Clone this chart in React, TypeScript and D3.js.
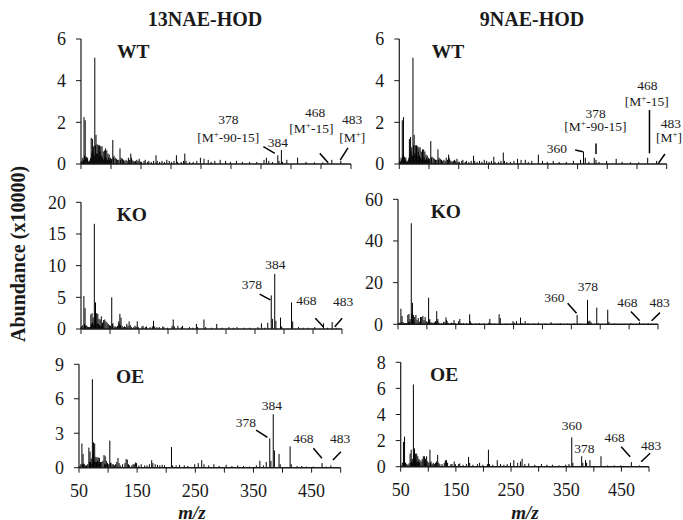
import * as d3 from 'd3';

type Peak = [number, number];
type Note = { mz: number; v: number; t: string };
type Leader = [[number, number], [number, number]];

// ---- spectra (m/z, abundance x10000) ----
const WT_13NAE: Peak[] = [
  [50, 0.1], [51, 0.15], [52, 0.1], [53, 0.3], [54, 0.2], [55, 2.25], [56, 0.4], [57, 2.1], [58, 0.3], [59, 0.35],
  [60, 0.2], [61, 0.3], [62, 0.1], [63, 0.15], [64, 0.1], [65, 0.2], [66, 0.3], [67, 1.25], [68, 0.5], [69, 1.2],
  [70, 0.6], [71, 0.85], [72, 0.4], [73, 5.1], [74, 0.9], [75, 1.4], [76, 0.5], [77, 0.95], [78, 0.5], [79, 0.9],
  [80, 0.4], [81, 0.9], [82, 0.6], [83, 0.85], [84, 0.4], [85, 0.85], [86, 0.3], [87, 0.6], [88, 0.2], [89, 0.65],
  [90, 0.3], [91, 0.75], [92, 0.3], [93, 0.65], [94, 0.2], [95, 0.5], [96, 0.3], [97, 0.45], [98, 0.2], [99, 0.3],
  [100, 0.15], [101, 0.25], [103, 1.15], [104, 0.3], [105, 0.4], [107, 0.3], [109, 0.25], [111, 0.2], [113, 0.2],
  [115, 0.75], [116, 0.2], [117, 0.3], [119, 0.25], [121, 0.2], [123, 0.15], [125, 0.2], [127, 0.15], [129, 0.3],
  [131, 0.2], [133, 0.5], [134, 0.3], [135, 0.2], [137, 0.15], [139, 0.12], [141, 0.15], [143, 0.2], [145, 0.15],
  [147, 0.25], [149, 0.12], [151, 0.1], [155, 0.15], [157, 0.2], [161, 0.1], [163, 0.15], [167, 0.1], [171, 0.15],
  [175, 0.42], [177, 0.15], [181, 0.1], [185, 0.15], [189, 0.1], [193, 0.2], [197, 0.15], [201, 0.1], [205, 0.15],
  [209, 0.42], [211, 0.1], [217, 0.1], [221, 0.15], [223, 0.5], [225, 0.15], [231, 0.1], [237, 0.1], [243, 0.15],
  [249, 0.3], [255, 0.25], [262, 0.2], [267, 0.1], [273, 0.15], [282, 0.2], [291, 0.15], [299, 0.1], [309, 0.15],
  [319, 0.1], [331, 0.1], [343, 0.1], [355, 0.2], [359, 0.3], [363, 0.15], [369, 0.1], [378, 0.42], [380, 0.15],
  [384, 0.67], [386, 0.1], [393, 0.2], [411, 0.3], [425, 0.1], [439, 0.08], [453, 0.08], [468, 0.2], [483, 0.15],
];

const WT_9NAE: Peak[] = [
  [50, 0.1], [51, 0.15], [52, 0.1], [53, 0.3], [54, 0.2], [55, 2.1], [56, 0.4], [57, 2.25], [58, 0.3], [59, 0.35],
  [60, 0.2], [61, 0.3], [62, 0.1], [63, 0.15], [64, 0.1], [65, 0.2], [66, 0.3], [67, 1.2], [68, 0.5], [69, 1.3],
  [70, 0.6], [71, 0.8], [72, 0.4], [73, 5.1], [74, 0.9], [75, 1.4], [76, 0.5], [77, 0.9], [78, 0.5], [79, 0.9],
  [80, 0.4], [81, 0.85], [82, 0.6], [83, 0.8], [84, 0.4], [85, 0.8], [86, 0.3], [87, 0.6], [88, 0.2], [89, 0.7],
  [90, 0.3], [91, 0.7], [92, 0.3], [93, 0.6], [94, 0.2], [95, 0.45], [96, 0.3], [97, 0.4], [98, 0.2], [99, 0.3],
  [100, 0.15], [101, 0.25], [103, 1.1], [104, 0.3], [105, 0.35], [107, 0.3], [109, 0.25], [111, 0.2], [113, 0.2],
  [115, 0.7], [116, 0.2], [117, 0.3], [119, 0.25], [121, 0.2], [123, 0.15], [125, 0.2], [127, 0.15], [129, 0.3],
  [131, 0.2], [133, 0.45], [134, 0.3], [135, 0.2], [137, 0.15], [139, 0.12], [141, 0.15], [143, 0.2], [145, 0.15],
  [147, 0.25], [149, 0.12], [151, 0.1], [155, 0.15], [157, 0.2], [161, 0.1], [163, 0.15], [167, 0.1], [171, 0.15],
  [175, 0.4], [177, 0.15], [181, 0.1], [185, 0.15], [189, 0.1], [193, 0.2], [197, 0.15], [201, 0.1], [205, 0.15],
  [209, 0.35], [211, 0.1], [217, 0.1], [221, 0.15], [225, 0.55], [227, 0.15], [231, 0.1], [237, 0.1], [243, 0.15],
  [249, 0.25], [255, 0.2], [262, 0.2], [267, 0.1], [273, 0.15], [284, 0.45], [291, 0.15], [299, 0.1], [309, 0.15],
  [319, 0.1], [331, 0.1], [343, 0.15], [355, 0.2], [360, 0.6], [363, 0.3], [369, 0.1], [378, 0.3], [381, 0.2],
  [386, 0.1], [399, 0.15], [415, 0.25], [425, 0.1], [439, 0.08], [453, 0.08], [468, 0.3], [483, 0.15],
];

const KO_13NAE: Peak[] = [
  [50, 0.3], [51, 0.4], [53, 0.6], [55, 5.2], [56, 0.8], [57, 3.3], [58, 0.5], [59, 0.6], [61, 0.4], [63, 0.3],
  [65, 0.3], [66, 0.4], [67, 2.3], [68, 0.8], [69, 2.5], [70, 1.0], [71, 1.8], [72, 0.7], [73, 16.6], [74, 2.5],
  [75, 4.2], [76, 1.0], [77, 2.5], [78, 0.8], [79, 2.4], [80, 0.8], [81, 1.6], [82, 0.6], [83, 1.5], [84, 0.5],
  [85, 2.0], [86, 0.5], [87, 1.0], [89, 1.4], [91, 1.5], [93, 1.2], [95, 1.0], [97, 0.8], [99, 0.6], [101, 0.5],
  [103, 5.0], [104, 0.8], [105, 0.9], [107, 0.4], [109, 0.4], [111, 0.3], [113, 0.5], [115, 1.2], [116, 0.8],
  [117, 2.4], [118, 0.6], [119, 1.8], [121, 0.5], [123, 0.3], [125, 0.4], [127, 0.3], [129, 0.8], [131, 0.5],
  [133, 1.2], [135, 0.6], [137, 0.3], [141, 0.3], [143, 0.5], [145, 0.4], [147, 1.2], [149, 0.3], [155, 0.4],
  [157, 0.5], [161, 0.3], [163, 0.4], [169, 0.3], [173, 0.4], [175, 1.3], [177, 0.4], [181, 0.3], [185, 0.3],
  [191, 0.4], [193, 0.3], [199, 0.2], [207, 0.5], [209, 1.5], [211, 0.4], [217, 0.5], [223, 0.3], [225, 0.5],
  [237, 0.3], [243, 0.2], [249, 0.8], [251, 0.3], [262, 1.5], [265, 0.3], [275, 0.2], [284, 0.8], [293, 0.2],
  [305, 0.3], [313, 0.2], [319, 0.3], [331, 0.2], [341, 0.2], [355, 0.3], [361, 0.9], [367, 0.2], [372, 1.0],
  [378, 5.3], [380, 1.6], [384, 8.7], [386, 1.3], [394, 1.8], [396, 0.4], [413, 4.2], [415, 1.2], [425, 0.3],
  [433, 0.2], [441, 0.2], [453, 0.3], [468, 0.9], [475, 0.2], [483, 1.1], [490, 0.2],
];

const KO_9NAE: Peak[] = [
  [50, 0.5], [53, 0.8], [55, 7.5], [56, 1], [57, 4], [59, 1], [61, 0.6], [63, 0.5], [65, 0.6], [67, 4.5],
  [68, 1], [69, 5], [70, 1.2], [71, 2.5], [73, 48.5], [74, 5], [75, 10.3], [76, 2], [77, 4.5], [78, 1],
  [79, 3.5], [81, 4.5], [83, 2], [85, 3], [87, 1.2], [89, 3.5], [91, 3.5], [93, 4], [95, 2], [97, 3.5],
  [99, 1.5], [101, 1], [103, 12.8], [104, 2], [105, 2.5], [107, 1], [109, 0.8], [111, 0.6], [113, 1], [115, 1.5],
  [117, 6.3], [118, 1.5], [119, 2.5], [121, 0.8], [125, 0.6], [129, 1.2], [131, 1], [133, 3.3], [134, 2],
  [135, 1.5], [137, 0.6], [141, 0.5], [143, 0.8], [145, 0.6], [147, 2], [149, 0.6], [155, 1.5], [157, 2.6],
  [159, 0.5], [163, 0.6], [169, 0.5], [174, 4.8], [175, 1.5], [177, 0.6], [185, 0.4], [191, 0.6], [199, 0.4],
  [207, 0.8], [209, 2.6], [211, 0.5], [217, 0.4], [225, 4.8], [227, 3.0], [237, 0.4], [249, 1.5], [251, 0.8],
  [255, 1.5], [262, 3.2], [265, 0.6], [270, 1.5], [275, 0.5], [285, 0.4], [293, 0.8], [305, 0.4], [315, 1],
  [325, 0.3], [331, 0.5], [343, 0.3], [355, 0.5], [360, 4.5], [365, 0.4], [378, 11.7], [380, 1.5], [382, 1.8],
  [384, 1], [394, 8], [397, 0.5], [413, 7], [415, 1.2], [425, 0.4], [441, 0.3], [453, 0.5], [468, 1.0],
  [475, 0.3], [483, 0.5],
];

const OE_13NAE: Peak[] = [
  [50, 0.15], [53, 0.3], [55, 2.1], [56, 0.3], [57, 1.2], [58, 0.3], [59, 0.35], [61, 0.2], [63, 0.2], [65, 0.3],
  [67, 1.75], [68, 0.5], [69, 1.4], [70, 0.5], [71, 0.8], [72, 0.3], [73, 7.7], [74, 1.2], [75, 2.2], [76, 0.6],
  [77, 2.1], [78, 0.5], [79, 0.95], [80, 0.5], [81, 0.9], [82, 0.6], [83, 0.9], [84, 0.5], [85, 0.85], [86, 0.3],
  [87, 0.5], [89, 0.5], [91, 0.6], [93, 1.1], [94, 0.3], [95, 1.0], [96, 0.3], [97, 0.6], [99, 0.4], [101, 0.3],
  [103, 2.35], [104, 0.4], [105, 0.45], [107, 0.3], [109, 0.3], [111, 0.2], [113, 0.3], [115, 0.5], [117, 0.85],
  [119, 0.4], [121, 0.2], [125, 0.3], [129, 0.4], [131, 0.75], [133, 0.7], [135, 0.3], [137, 0.2], [141, 0.2],
  [143, 0.3], [145, 0.3], [147, 0.45], [149, 0.4], [153, 0.2], [157, 0.3], [163, 0.2], [167, 0.2], [171, 0.3],
  [175, 0.65], [177, 0.4], [181, 0.3], [185, 0.25], [189, 0.2], [193, 0.25], [197, 0.2], [209, 1.8], [211, 0.2],
  [217, 0.2], [223, 0.25], [231, 0.2], [237, 0.15], [249, 0.3], [255, 0.4], [261, 0.65], [265, 0.3], [273, 0.2],
  [282, 0.3], [291, 0.15], [303, 0.25], [313, 0.15], [323, 0.2], [333, 0.15], [343, 0.1], [355, 0.2], [361, 0.6],
  [367, 0.2], [372, 0.5], [378, 2.55], [380, 0.6], [384, 4.65], [386, 1.5], [394, 1.2], [396, 0.3], [413, 1.85],
  [415, 0.3], [425, 0.15], [433, 0.15], [441, 0.1], [453, 0.1], [468, 0.4], [475, 0.1], [483, 0.2],
];

const OE_9NAE: Peak[] = [
  [50, 0.15], [53, 0.3], [55, 1.9], [56, 0.3], [57, 2.3], [58, 0.3], [59, 0.3], [61, 0.2], [63, 0.15], [65, 0.25],
  [67, 1.0], [68, 0.3], [69, 1.3], [70, 0.4], [71, 0.6], [72, 0.3], [73, 6.3], [74, 1.0], [75, 1.4], [76, 0.5],
  [77, 1.0], [78, 0.4], [79, 1.0], [80, 0.3], [81, 0.8], [82, 0.4], [83, 0.6], [84, 0.3], [85, 0.5], [87, 0.4],
  [89, 0.6], [91, 0.8], [93, 0.8], [95, 0.6], [97, 0.8], [99, 0.4], [101, 0.3], [103, 1.3], [104, 0.3], [105, 0.4],
  [107, 0.2], [109, 0.3], [111, 0.2], [113, 0.3], [115, 0.4], [117, 0.9], [119, 0.3], [121, 0.2], [125, 0.2],
  [129, 0.3], [131, 0.5], [133, 0.5], [135, 0.3], [141, 0.2], [143, 0.2], [147, 0.4], [149, 0.2], [155, 0.2],
  [157, 0.25], [163, 0.15], [169, 0.2], [173, 0.75], [175, 0.3], [181, 0.15], [189, 0.2], [193, 0.3], [199, 0.15],
  [207, 0.2], [209, 1.3], [211, 0.2], [217, 0.15], [225, 0.5], [231, 0.2], [237, 0.15], [243, 0.2], [249, 0.3],
  [255, 0.5], [262, 0.3], [267, 0.4], [270, 0.6], [275, 0.2], [282, 0.25], [293, 0.15], [305, 0.2], [315, 0.15],
  [325, 0.15], [337, 0.1], [349, 0.15], [355, 0.2], [360, 2.25], [362, 0.3], [378, 0.8], [380, 0.3], [385, 0.5],
  [387, 0.3], [393, 0.5], [413, 0.8], [425, 0.1], [437, 0.1], [449, 0.1], [468, 0.35], [483, 0.1],
];

// ---- annotations in data units (m/z, abundance) ----
const NOTES_WT_13NAE: Note[] = [
  { mz: 295.5, v: 1.9, t: '378' }, { mz: 295.5, v: 1.07, t: '[M+-90-15]' }, { mz: 378, v: 0.83, t: '384' },
  { mz: 440, v: 2.27, t: '468' }, { mz: 434, v: 1.47, t: '[M+-15]' },
  { mz: 502, v: 1.9, t: '483' }, { mz: 502, v: 1.06, t: '[M+]' },
];
const LEAD_WT_13NAE: Leader[] = [[[354, 0.83], [373, 0.51]], [[448, 0.51], [462, 0.06]], [[482, 0.19], [495, 0.77]]];

const NOTES_WT_9NAE: Note[] = [
  { mz: 315, v: 0.54, t: '360' }, { mz: 380.6, v: 2.19, t: '378' }, { mz: 380, v: 1.58, t: '[M+-90-15]' },
  { mz: 467.5, v: 3.55, t: '468' }, { mz: 466.5, v: 2.78, t: '[M+-15]' },
  { mz: 507, v: 1.71, t: '483' }, { mz: 504, v: 1.07, t: '[M+]' },
];
const LEAD_WT_9NAE: Leader[] = [[[346, 0.67], [359, 0.59]], [[381, 0.99], [381, 0.48]], [[471, 2.59], [471, 0.51]], [[486, 0.03], [497, 0.48]]];

const NOTES_KO_13NAE: Note[] = [
  { mz: 385, v: 9.43, t: '384' }, { mz: 344.8, v: 6.27, t: '378' }, { mz: 438.6, v: 3.79, t: '468' }, { mz: 502, v: 3.63, t: '483' },
];
const LEAD_KO_13NAE: Leader[] = [[[358, 5.5], [376.5, 4.6]], [[454, 1.7], [468.5, 0.27]], [[487.5, 0.37], [500.3, 1.69]]];

const NOTES_KO_9NAE: Note[] = [
  { mz: 320.7, v: 10.9, t: '360' }, { mz: 378.8, v: 16.1, t: '378' }, { mz: 447, v: 8.5, t: '468' }, { mz: 503, v: 8.2, t: '483' },
];
const LEAD_KO_9NAE: Leader[] = [[[343.6, 10.1], [359, 5.3]], [[453, 6.1], [468.4, 1.7]], [[489, 1.7], [503.4, 5.6]]];

const NOTES_OE_13NAE: Note[] = [
  { mz: 381.6, v: 5.0, t: '384' }, { mz: 337, v: 3.5, t: '378' }, { mz: 436, v: 2.18, t: '468' }, { mz: 499, v: 2.18, t: '483' },
];
const LEAD_OE_13NAE: Leader[] = [[[354.6, 3.28], [374, 2.64]], [[453, 1.69], [467.7, 0.82]], [[486.6, 0.67], [500.4, 1.39]]];

const NOTES_OE_9NAE: Note[] = [
  { mz: 360, v: 2.81, t: '360' }, { mz: 383, v: 1.07, t: '378' }, { mz: 437.5, v: 1.92, t: '468' }, { mz: 504, v: 1.28, t: '483' },
];
const LEAD_OE_9NAE: Leader[] = [[[449.6, 1.53], [465.9, 0.77]], [[485.8, 0.38], [502, 1.03]]];

const MZ_DOMAIN = [50, 500];
const MZ_TICKS = d3.range(50, 501, 50);
const MZ_LABELS = [50, 150, 250, 350, 450];
const COLUMN_TITLES = ['13NAE-HOD', '9NAE-HOD'];

const FONT = '"Liberation Serif", "Times New Roman", "DejaVu Serif", serif';
const INK = '#1a1a1a';

interface PanelDef {
  data: Peak[];
  notes: Note[];
  leaders: Leader[];
  label: string;
  yMax: number;
  yTicks: number[];
  x0: number; x1: number; top: number; bottom: number; labelDx: number;
  xLabels: boolean;
}

const PANELS: PanelDef[] = [
  { data: WT_13NAE, notes: NOTES_WT_13NAE, leaders: LEAD_WT_13NAE, label: 'WT', yMax: 6, yTicks: [0, 2, 4, 6], x0: 81, x1: 351, top: 39, bottom: 164, labelDx: 36, xLabels: false },
  { data: WT_9NAE, notes: NOTES_WT_9NAE, leaders: LEAD_WT_9NAE, label: 'WT', yMax: 6, yTicks: [0, 2, 4, 6], x0: 399.3, x1: 666.7, top: 39, bottom: 164, labelDx: 32.5, xLabels: false },
  { data: KO_13NAE, notes: NOTES_KO_13NAE, leaders: LEAD_KO_13NAE, label: 'KO', yMax: 20, yTicks: [0, 5, 10, 15, 20], x0: 81, x1: 342, top: 202.3, bottom: 329, labelDx: 35.7, xLabels: false },
  { data: KO_9NAE, notes: NOTES_KO_9NAE, leaders: LEAD_KO_9NAE, label: 'KO', yMax: 60, yTicks: [0, 20, 40, 60], x0: 398, x1: 658, top: 199.3, bottom: 324.3, labelDx: 32.7, xLabels: false },
  { data: OE_13NAE, notes: NOTES_OE_13NAE, leaders: LEAD_OE_13NAE, label: 'OE', yMax: 9, yTicks: [0, 3, 6, 9], x0: 79, x1: 340.7, top: 364.3, bottom: 467.7, labelDx: 37, xLabels: true },
  { data: OE_9NAE, notes: NOTES_OE_9NAE, leaders: LEAD_OE_9NAE, label: 'OE', yMax: 8, yTicks: [0, 2, 4, 6, 8], x0: 400.7, x1: 649, top: 362.3, bottom: 466.7, labelDx: 29.3, xLabels: true },
];

function NoteText({ t }: { t: string }) {
  const i = t.indexOf('M+');
  if (i < 0) return <>{t}</>;
  return (
    <>
      {t.slice(0, i + 1)}
      <tspan dy={-5} fontSize={9}>+</tspan>
      <tspan dy={5}>{t.slice(i + 2)}</tspan>
    </>
  );
}

function Panel({ p }: { p: PanelDef }) {
  const x = d3.scaleLinear().domain(MZ_DOMAIN).range([p.x0, p.x1]);
  const y = d3.scaleLinear().domain([0, p.yMax]).range([p.bottom, p.top]);
  return (
    <g>
      {p.data.map(([mz, v], i) => (
        <line key={i} x1={x(mz)} x2={x(mz)} y1={y(0)} y2={y(v)} stroke="#000" strokeWidth={1} />
      ))}
      <line x1={p.x0} x2={p.x0} y1={p.top} y2={p.bottom} stroke={INK} strokeWidth={1.2} />
      <line x1={p.x0} x2={p.x1} y1={p.bottom} y2={p.bottom} stroke={INK} strokeWidth={1.4} />
      {p.yTicks.map((t) => (
        <g key={t}>
          <line x1={p.x0 - 5} x2={p.x0} y1={y(t)} y2={y(t)} stroke={INK} strokeWidth={1} />
          <text x={p.x0 - 15} y={y(t)} dy="0.35em" textAnchor="end" fontSize={18} fill={INK}>{t}</text>
        </g>
      ))}
      {MZ_TICKS.map((t) => (
        <line key={t} x1={x(t)} x2={x(t)} y1={p.bottom} y2={p.bottom + 5} stroke={INK} strokeWidth={1} />
      ))}
      {p.xLabels && MZ_LABELS.map((t) => (
        <text key={t} x={x(t)} y={p.bottom + 29} textAnchor="middle" fontSize={18} fill={INK}>{t}</text>
      ))}
      <text x={p.x0 + p.labelDx} y={p.top + 19} fontSize={19.5} fontWeight="bold" fill={INK}>{p.label}</text>
      {p.leaders.map(([a, b], i) => (
        <line key={i} x1={x(a[0])} y1={y(a[1])} x2={x(b[0])} y2={y(b[1])} stroke="#000" strokeWidth={1.5} />
      ))}
      {p.notes.map((n, i) => (
        <text key={i} x={x(n.mz)} y={y(n.v)} textAnchor="middle" fontSize={13.5} fill={INK}>
          <NoteText t={n.t} />
        </text>
      ))}
    </g>
  );
}

export default function App() {
  return (
    <svg width={683} height={520} style={{ position: 'absolute', left: 0, top: 0, background: '#fff' }} fontFamily={FONT}>
      <rect width={683} height={520} fill="#fff" />
      {PANELS.map((p, i) => <Panel key={i} p={p} />)}
      <text x={205} y={26} textAnchor="middle" fontSize={20} fontWeight="bold" fill={INK}>{COLUMN_TITLES[0]}</text>
      <text x={532} y={26} textAnchor="middle" fontSize={20} fontWeight="bold" fill={INK}>{COLUMN_TITLES[1]}</text>
      <text transform="translate(25,254) rotate(-90)" textAnchor="middle" fontSize={20} fontWeight="bold" fill={INK}>
        Abundance (x10000)
      </text>
      <text x={192} y={519} textAnchor="middle" fontSize={19} fontWeight="bold" fontStyle="italic" fill={INK}>m/z</text>
      <text x={525} y={519} textAnchor="middle" fontSize={19} fontWeight="bold" fontStyle="italic" fill={INK}>m/z</text>
    </svg>
  );
}
